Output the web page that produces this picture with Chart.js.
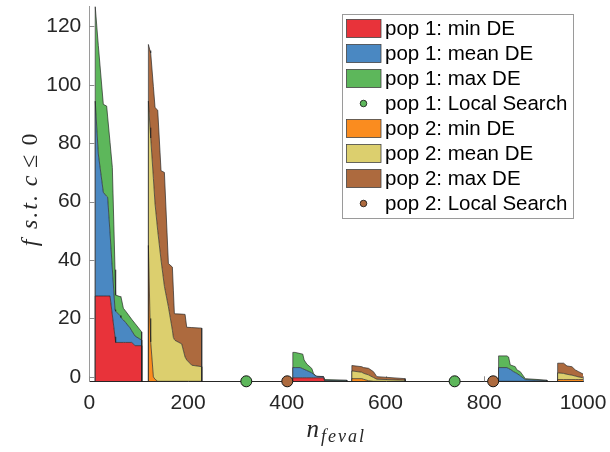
<!DOCTYPE html>
<html>
<head>
<meta charset="utf-8">
<script src="https://cdn.jsdelivr.net/npm/chart.js@4.4.1/dist/chart.umd.min.js"></script>
<style>
  html, body { margin: 0; padding: 0; background: #fff; }
  #wrap { width: 610px; height: 452px; }
</style>
</head>
<body>
<div id="wrap"><canvas id="chart" width="610" height="452"></canvas></div>
<script>
// n_feval of each DE phase (one sub-array per phase)
const pop1Evals = [
  [12, 18.3, 28.4, 35.2, 37.2, 42.0, 46.7, 52.1, 53.4, 62.2, 64.2, 69.0, 73.7, 82.5, 85.9, 92.6, 106.1],
  [412.2, 416.9, 427.0, 432.4, 435.1, 440.6, 450.7, 454.0, 457.4, 460.8, 474.3, 477.0, 521.6],
  [829.0, 845.9, 849.3, 852.7, 859.4, 862.8, 866.2, 872.9, 883.1, 927.0]
];
// f values of the population (min <= mean <= max)
const pop1Min = [
  [27.7, 27.7, 27.7, 27.7, 27.7, 27.7, 21.2, 13.7, 11.8, 11.8, 11.8, 11.8, 11.8, 11.8, 11.8, 10.7, 10.7],
  [-0.3, -0.3, -0.3, -0.3, -0.3, -0.3, -0.3, -0.3, -0.3, -0.3, -0.3, -1.5, -1.5],
  [-1.5, -1.5, -1.5, -1.5, -1.5, -1.5, -1.5, -1.5, -1.5, -1.5]
];
const pop1Mean = [
  [94.4, 76.3, 63.2, 61.8, 61.5, 49.2, 36.9, 23.0, 22.5, 21.0, 20.3, 19.5, 18.6, 16.8, 15.8, 14.0, 12.6],
  [3.2, 3.2, 3.2, 2.8, 2.6, 2.2, 1.4, 0.9, 0.5, 0.2, 0.1, -1.2, -1.3],
  [3.2, 3.2, 2.9, 2.6, 1.8, 1.5, 1.2, 0.4, -0.9, -1.3]
];
const pop1Max = [
  [126.8, 113.4, 93.3, 92.7, 89.0, 80.3, 71.7, 36.7, 28.0, 27.5, 27.4, 23.5, 22.5, 20.5, 19.7, 18.3, 15.4],
  [8.4, 8.4, 8.0, 7.8, 5.8, 4.4, 2.9, 1.25, 0.6, 0.2, 0.15, -0.9, -1.1],
  [7.2, 7.2, 6.8, 4.1, 3.7, 3.5, 2.4, 1.8, -0.6, -1.1]
];
const pop1LocalSearch = [318, 740];

const pop2Evals = [
  [119.7, 123.0, 124.4, 129.8, 133.2, 138.6, 145.3, 152.1, 160.2, 168.3, 170.3, 172.3, 173.7, 187.2, 194.0, 197.3, 207.5, 227.7],
  [531.8, 552.0, 555.4, 565.5, 575.6, 582.4, 639.8],
  [948.6, 960.7, 967.5, 977.6, 984.4, 991.1, 1000]
];
const pop2Min = [
  [45, 20, 12, 0, -0.8, -1.5, -1.5, -1.5, -1.5, -1.5, -1.5, -1.5, -1.5, -1.5, -1.5, -1.5, -1.5, -1.5],
  [-0.6, -0.6, -0.8, -1.3, -1.5, -1.5, -1.5],
  [-0.9, -0.9, -0.9, -0.9, -0.9, -0.9, -0.9]
];
const pop2Mean = [
  [94.4, 85.3, 81.8, 68, 59.2, 50, 40, 31, 24, 16, 13.5, 12.8, 12.5, 11.3, 6.8, 5.8, 4.0, 3.5],
  [2.05, 1.6, 1.25, 0.7, -0.2, -0.8, -1.1],
  [1.4, 1.2, 0.9, 0.6, 0.3, 0.0, -0.3]
];
const pop2Max = [
  [113.8, 111.7, 110.9, 99.4, 92.2, 91.3, 70.6, 70.0, 38.8, 37.6, 29.7, 21.7, 21.6, 21.5, 21.4, 17.0, 16.9, 16.7],
  [3.9, 3.5, 3.2, 2.95, 1.8, 0.1, -0.6],
  [4.7, 4.7, 3.75, 3.5, 2.4, 1.8, 1.0]
];
const pop2LocalSearch = [401, 818];

const xTicks = [0, 200, 400, 600, 800, 1000];
const yTicks = [0, 20, 40, 60, 80, 100, 120];
const Y_MIN = -1.5;
const Y_MAX = 126.8;

const EDGE = 'rgba(35,35,35,0.85)';
const TICK_FONT = { family: 'Liberation Sans, Arial, Helvetica, sans-serif', size: 21 };
const SERIF = '"Liberation Serif", "DejaVu Serif", serif';

// one point list per series: drops to the base at each phase edge, breaks between phases
function phaseSeries(evals, values) {
  const pts = [];
  evals.forEach((xs, p) => {
    pts.push({ x: xs[0] - 0.01, y: Y_MIN });
    xs.forEach((x, i) => pts.push({ x: x, y: values[p][i] }));
    pts.push({ x: xs[xs.length - 1] + 0.01, y: Y_MIN });
    pts.push({ x: xs[xs.length - 1] + 1, y: null });
  });
  return pts;
}

function areaSet(label, evals, values, color, fill) {
  return {
    label: label,
    data: phaseSeries(evals, values),
    backgroundColor: color,
    borderColor: EDGE,
    borderWidth: 0.8,
    pointRadius: 0,
    tension: 0,
    fill: fill,
    spanGaps: false
  };
}

function localSearchSet(label, evals, color) {
  return {
    label: label,
    data: evals.map(x => ({ x: x, y: Y_MIN })),
    showLine: false,
    pointRadius: 5.5,
    pointBackgroundColor: color,
    pointBorderColor: '#111',
    pointBorderWidth: 1,
    backgroundColor: color,
    order: -1,
    clip: false
  };
}

const datasets = [
  areaSet('pop 1: min DE', pop1Evals, pop1Min, '#e8333a', 'start'),
  areaSet('pop 1: mean DE', pop1Evals, pop1Mean, '#4a88c2', '-1'),
  areaSet('pop 1: max DE', pop1Evals, pop1Max, '#5db75b', '-1'),
  localSearchSet('pop 1: Local Search', pop1LocalSearch, '#5db75b'),
  areaSet('pop 2: min DE', pop2Evals, pop2Min, '#fa8c1f', 'start'),
  areaSet('pop 2: mean DE', pop2Evals, pop2Mean, '#dccf6e', '-1'),
  areaSet('pop 2: max DE', pop2Evals, pop2Max, '#ad6a3e', '-1'),
  localSearchSet('pop 2: Local Search', pop2LocalSearch, '#ad6a3e')
];

// inward ticks, axis titles and the boxed legend inside the axes
const decor = {
  id: 'decor',
  beforeDatasetsDraw(chart) {
    const { ctx, chartArea, scales } = chart;
    ctx.save();
    ctx.strokeStyle = '#8c8c8c';
    ctx.lineWidth = 1;
    yTicks.forEach(v => {
      const y = Math.round(scales.y.getPixelForValue(v)) + 0.5;
      ctx.beginPath();
      ctx.moveTo(chartArea.left, y);
      ctx.lineTo(chartArea.left + 5, y);
      ctx.stroke();
    });
    xTicks.forEach(v => {
      const x = Math.round(scales.x.getPixelForValue(v)) + 0.5;
      ctx.beginPath();
      ctx.moveTo(x, chartArea.bottom);
      ctx.lineTo(x, chartArea.bottom - 5);
      ctx.stroke();
    });
    ctx.restore();
  },
  afterDraw(chart) {
    const { ctx, chartArea } = chart;
    ctx.save();
    ctx.fillStyle = '#262626';
    ctx.textBaseline = 'alphabetic';

    // y title: f s.t. c <= 0, pieces placed along the rotated baseline
    ctx.translate(37, 253);
    ctx.rotate(-Math.PI / 2);
    ctx.textAlign = 'center';
    [['f', 10, true, 0], ['s.t.', 42, true, 2], ['c', 72, true, 0], ['\u2264', 91.5, false, 0], ['0', 113.5, false, 0]]
      .forEach(([t, pos, it, sp]) => {
        ctx.font = (it ? 'italic ' : '') + '24px ' + SERIF;
        ctx.letterSpacing = sp + 'px';
        ctx.fillText(t, pos, 0);
      });
    ctx.letterSpacing = '0px';
    ctx.setTransform(1, 0, 0, 1, 0, 0);
    ctx.textAlign = 'left';

    // x title: n_feval
    const cx = (chartArea.left + chartArea.right) / 2;
    ctx.font = 'italic 25px ' + SERIF;
    const wn = ctx.measureText('n').width;
    ctx.font = 'italic 18px ' + SERIF;
    ctx.letterSpacing = '2px';
    const ws = ctx.measureText('feval').width;
    const x0 = cx - (wn + ws + 2) / 2;
    ctx.fillText('feval', x0 + wn + 2, 442);
    ctx.letterSpacing = '0px';
    ctx.font = 'italic 25px ' + SERIF;
    ctx.fillText('n', x0, 437);

    // legend
    const box = { left: 342.5, top: 14.5, right: 573.5, bottom: 218.5 };
    ctx.fillStyle = '#fff';
    ctx.fillRect(box.left, box.top, box.right - box.left, box.bottom - box.top);
    ctx.strokeStyle = '#9a9a9a';
    ctx.lineWidth = 1;
    ctx.strokeRect(box.left, box.top, box.right - box.left, box.bottom - box.top);
    ctx.font = '20.5px "Liberation Sans", Arial, Helvetica, sans-serif';
    ctx.textBaseline = 'middle';
    chart.data.datasets.forEach((ds, i) => {
      const cy = 28.5 + i * 25;
      if (ds.showLine === false) {
        ctx.beginPath();
        ctx.arc(363.5, cy, 3.3, 0, Math.PI * 2);
        ctx.fillStyle = ds.pointBackgroundColor;
        ctx.fill();
        ctx.strokeStyle = '#111';
        ctx.lineWidth = 0.8;
        ctx.stroke();
      } else {
        ctx.fillStyle = ds.backgroundColor;
        ctx.fillRect(346.5, cy - 9, 34.5, 18);
        ctx.strokeStyle = '#444';
        ctx.lineWidth = 0.8;
        ctx.strokeRect(346.5, cy - 9, 34.5, 18);
      }
      ctx.fillStyle = '#000';
      ctx.fillText(ds.label, 385, cy + 1);
    });
    ctx.restore();
  }
};

new Chart(document.getElementById('chart').getContext('2d'), {
  type: 'line',
  data: { datasets: datasets },
  plugins: [decor],
  options: {
    responsive: false,
    devicePixelRatio: 1,
    animation: false,
    layout: { padding: { top: 5, right: 27, bottom: 0, left: 0 } },
    plugins: { legend: { display: false }, tooltip: { enabled: false } },
    scales: {
      x: {
        type: 'linear',
        min: 0,
        max: 1000,
        afterBuildTicks: scale => { scale.ticks = xTicks.map(v => ({ value: v })); },
        afterFit: scale => { scale.height = 70.7; scale.paddingLeft = 0; scale.paddingRight = 0; },
        grid: { drawOnChartArea: false, drawTicks: false },
        border: { color: '#262626', width: 1 },
        ticks: { font: TICK_FONT, color: '#262626', padding: 9, maxRotation: 0, callback: v => String(v) }
      },
      y: {
        type: 'linear',
        min: Y_MIN,
        max: Y_MAX,
        afterBuildTicks: scale => { scale.ticks = yTicks.map(v => ({ value: v })); },
        afterFit: scale => { scale.width = 89.3; scale.paddingTop = 0; scale.paddingBottom = 0; },
        grid: { drawOnChartArea: false, drawTicks: false },
        border: { color: '#9a9a9a', width: 1 },
        ticks: { font: TICK_FONT, color: '#262626', padding: 8, callback: v => String(v) }
      }
    }
  }
});
</script>
</body>
</html>
